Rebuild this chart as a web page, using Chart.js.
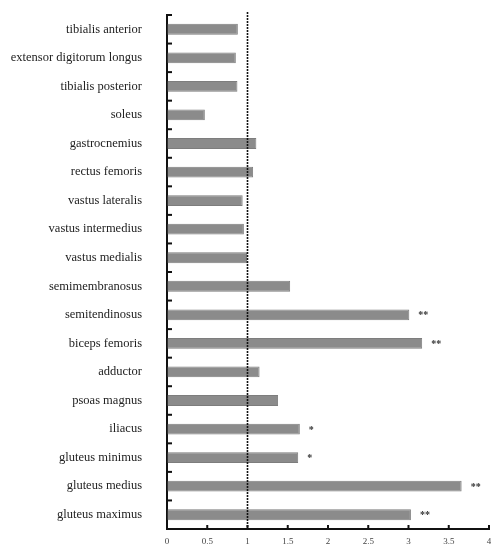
<!DOCTYPE html>
<html>
<head>
<meta charset="utf-8">
<script src="https://cdn.jsdelivr.net/npm/chart.js@4/dist/chart.umd.min.js"></script>
<style>
  html, body { margin: 0; padding: 0; background: #fff; overflow: hidden; }
  #wrap { width: 491px; height: 547px; }
</style>
</head>
<body>
<div id="wrap"><canvas id="muscle-chart"></canvas></div>
<script>
const muscles = [
  "tibialis anterior",
  "extensor digitorum longus",
  "tibialis posterior",
  "soleus",
  "gastrocnemius",
  "rectus femoris",
  "vastus lateralis",
  "vastus intermedius",
  "vastus medialis",
  "semimembranosus",
  "semitendinosus",
  "biceps femoris",
  "adductor",
  "psoas magnus",
  "iliacus",
  "gluteus minimus",
  "gluteus medius",
  "gluteus maximus",
];
const ratios = [0.88, 0.855, 0.875, 0.47, 1.11, 1.07, 0.94, 0.955, 0.995, 1.53, 3.01, 3.17, 1.15, 1.38, 1.65, 1.63, 3.66, 3.03];
const marks = ["", "", "", "", "", "", "", "", "", "", "**", "**", "", "", "*", "*", "**", "**"];
const xTicks = [0, 0.5, 1, 1.5, 2, 2.5, 3, 3.5, 4];
const refValue = 1;

const serif = "'Liberation Serif', 'DejaVu Serif', serif";

// inward ticks, dotted reference line and significance stars
const extras = {
  id: "extras",
  afterDatasetsDraw(chart) {
    const { ctx, chartArea, scales } = chart;
    const x = scales.x, y = scales.y;
    ctx.save();
    ctx.strokeStyle = "#111";
    ctx.lineWidth = 2;
    xTicks.forEach((v) => {
      const px = x.getPixelForValue(v);
      ctx.beginPath();
      ctx.moveTo(px, chartArea.bottom);
      ctx.lineTo(px, chartArea.bottom - 4);
      ctx.stroke();
    });
    const step = y.getPixelForValue(1) - y.getPixelForValue(0);
    for (let i = 0; i < muscles.length; i++) {
      const py = y.getPixelForValue(i) - step / 2;
      ctx.beginPath();
      ctx.moveTo(chartArea.left, py);
      ctx.lineTo(chartArea.left + 5, py);
      ctx.stroke();
    }
    const rx = x.getPixelForValue(refValue);
    ctx.lineWidth = 1.6;
    ctx.setLineDash([2, 1]);
    ctx.beginPath();
    ctx.moveTo(rx, chartArea.top - 3);
    ctx.lineTo(rx, chartArea.bottom);
    ctx.stroke();
    ctx.setLineDash([]);
    ctx.fillStyle = "#333";
    ctx.font = "bold 10px " + serif;
    ctx.textBaseline = "middle";
    chart.getDatasetMeta(0).data.forEach((bar, i) => {
      if (marks[i]) ctx.fillText(marks[i], bar.x + 9, bar.y + 1);
    });
    ctx.restore();
  },
};

new Chart(document.getElementById("muscle-chart"), {
  type: "bar",
  data: {
    labels: muscles,
    datasets: [
      {
        data: ratios,
        backgroundColor: "#8b8b8b",
        borderColor: "#7d7d7d",
        borderWidth: 1,
        barPercentage: 0.38,
        categoryPercentage: 1,
      },
    ],
  },
  options: {
    indexAxis: "y",
    responsive: true,
    maintainAspectRatio: false,
    animation: false,
    layout: { padding: { top: 15, right: 2, left: 0, bottom: 0 } },
    plugins: { legend: { display: false }, tooltip: { enabled: false } },
    scales: {
      x: {
        min: 0,
        max: 4,
        afterBuildTicks: (scale) => {
          scale.ticks = xTicks.map((v) => ({ value: v }));
        },
        afterFit: (scale) => {
          scale.height = 18;
          scale.paddingLeft = 0;
          scale.paddingRight = 0;
        },
        grid: { drawOnChartArea: false, drawTicks: false },
        border: { display: true, color: "#111", width: 2 },
        ticks: {
          padding: 7,
          color: "#444",
          font: { family: serif, size: 9 },
          maxRotation: 0,
          autoSkip: false,
          callback: (v) => String(v),
        },
      },
      y: {
        afterFit: (scale) => {
          scale.width = 167;
          scale.paddingTop = 0;
          scale.paddingBottom = 0;
        },
        grid: { drawOnChartArea: false, drawTicks: false },
        border: { display: true, color: "#111", width: 2 },
        ticks: {
          padding: 25,
          color: "#222",
          font: { family: serif, size: 12.5 },
          autoSkip: false,
        },
      },
    },
  },
  plugins: [extras],
});
</script>
</body>
</html>
